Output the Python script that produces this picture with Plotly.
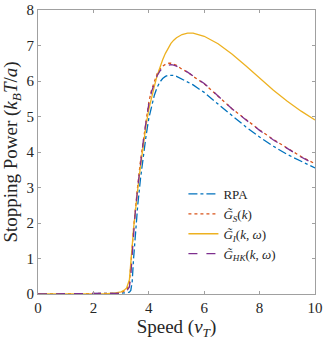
import plotly.graph_objects as go

speed = [0, 0.5, 1, 1.5, 2, 2.5, 2.8, 3.0, 3.1, 3.2, 3.3, 3.35, 3.4, 3.45, 3.5,
         3.6, 3.7, 3.8, 3.9, 4.0, 4.1, 4.2, 4.3, 4.4, 4.5, 4.6, 4.7, 4.8, 4.9,
         5.0, 5.2, 5.4, 5.6, 5.8, 6.0, 6.5, 7.0, 7.5, 8.0, 8.5, 9.0, 9.5, 10.0]

rpa = [0, 0, 0, 0, 0, 0, 0.01, 0.02, 0.03, 0.04, 0.05, 0.1, 0.35, 1.0, 1.6,
       2.5, 3.25, 3.9, 4.45, 4.95, 5.3, 5.6, 5.82, 5.97, 6.07, 6.13, 6.16, 6.17, 6.16,
       6.13, 6.05, 5.98, 5.89, 5.78, 5.68, 5.35, 5.03, 4.71, 4.42, 4.16, 3.93, 3.73, 3.55]

g_s = [0, 0, 0, 0, 0, 0.01, 0.02, 0.04, 0.07, 0.12, 0.3, 0.7, 1.3, 1.85, 2.3,
       3.05, 3.75, 4.35, 4.9, 5.4, 5.75, 6.0, 6.2, 6.33, 6.42, 6.47, 6.5, 6.5, 6.48,
       6.44, 6.33, 6.25, 6.13, 6.02, 5.92, 5.57, 5.22, 4.92, 4.62, 4.35, 4.1, 3.87, 3.67]

g_i = [0, 0, 0, 0, 0, 0.01, 0.03, 0.06, 0.1, 0.17, 0.4, 0.8, 1.35, 1.85, 2.25,
       2.95, 3.6, 4.2, 4.75, 5.2, 5.55, 5.85, 6.15, 6.4, 6.6, 6.78, 6.93, 7.06, 7.15,
       7.22, 7.31, 7.35, 7.35, 7.31, 7.26, 7.05, 6.76, 6.43, 6.08, 5.74, 5.43, 5.15, 4.9]

g_hk = [0, 0, 0, 0, 0, 0.01, 0.02, 0.03, 0.05, 0.08, 0.2, 0.5, 1.1, 1.7, 2.2,
        3.0, 3.7, 4.3, 4.85, 5.35, 5.7, 5.95, 6.15, 6.28, 6.37, 6.42, 6.45, 6.46, 6.45,
        6.42, 6.33, 6.25, 6.14, 6.03, 5.93, 5.58, 5.22, 4.91, 4.61, 4.34, 4.09, 3.86, 3.65]

names = ["RPA",
         "<i>G̃</i><sub><i>S</i></sub>(<i>k</i>)",
         "<i>G̃</i><sub><i>I</i></sub>(<i>k</i>, <i>ω</i>)",
         "<i>G̃</i><sub><i>HK</i></sub>(<i>k</i>, <i>ω</i>)"]
colors = ["#0072BD", "#D95319", "#EDB120", "#7E2F8E"]
dashes = ["dashdot", "dot", "solid", "dash"]

serif = "Liberation Serif, DejaVu Serif, serif"
ink = "#262626"

fig = go.Figure()
for ys, name, c, d in zip([rpa, g_s, g_i, g_hk], names, colors, dashes):
    fig.add_trace(go.Scatter(x=speed, y=ys, name=name, mode="lines",
                             line=dict(color=c, dash=d, width=1.3)))

axis_style = dict(showline=True, mirror="ticks", linecolor="#a0a0a0", linewidth=1,
                  ticks="inside", ticklen=3, tickcolor="#a0a0a0",
                  showgrid=False, zeroline=False, automargin=False,
                  tickfont=dict(family=serif, size=15, color=ink))

fig.update_xaxes(range=[0, 10], dtick=2,
                 title=dict(text="Speed (<i>v<sub>T</sub></i>)", standoff=4,
                            font=dict(family=serif, size=19, color=ink)),
                 **axis_style)
fig.update_yaxes(range=[0, 8], dtick=1,
                 title=dict(text="Stopping Power (<i>k<sub>B</sub>T</i>/<i>a</i>)", standoff=4,
                            font=dict(family=serif, size=19, color=ink)),
                 **axis_style)

fig.update_layout(width=327, height=340, margin=dict(l=38, r=12, t=10, b=46),
                  plot_bgcolor="white", paper_bgcolor="white",
                  legend=dict(x=0.525, y=0.405, xanchor="left", yanchor="top",
                              bgcolor="rgba(0,0,0,0)", tracegroupgap=0,
                              font=dict(family=serif, size=13, color=ink)))

fig.write_html("out.html", config={"displayModeBar": False},
               post_script="document.body.style.margin='0';")
